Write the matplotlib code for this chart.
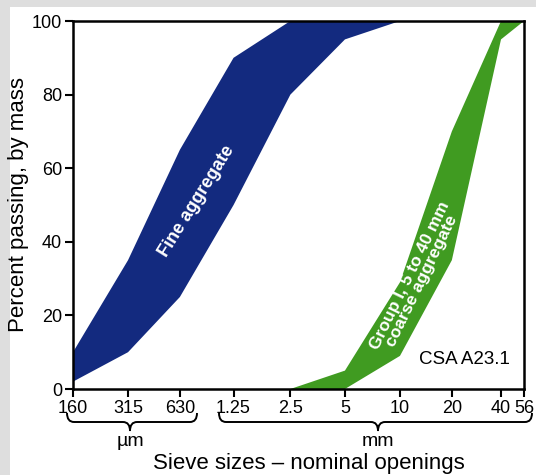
import matplotlib
matplotlib.use('Agg')
import matplotlib.pyplot as plt
import numpy as np
from matplotlib.path import Path
from matplotlib.patches import PathPatch, Rectangle

plt.rcParams['font.family'] = ['Liberation Sans', 'DejaVu Sans']

# sieve sizes in mm, tick labels as printed
sieve_mm = [0.16, 0.315, 0.63, 1.25, 2.5, 5, 10, 20, 40, 56]
sieve_labels = ['160', '315', '630', '1.25', '2.5', '5', '10', '20', '40', '56']
# where each sieve sits along the (hand drawn) axis, 0..1
sieve_pos = [0, 0.122, 0.237, 0.356, 0.482, 0.603, 0.725, 0.840, 0.949, 1.0]

# fine aggregate band
fine_upper_x = [0.16, 0.315, 0.63, 1.25, 2.5, 10]
fine_upper_y = [10, 35, 65, 90, 100, 100]
fine_lower_x = [0.16, 0.315, 0.63, 1.25, 2.5, 5, 10]
fine_lower_y = [2, 10, 25, 50, 80, 95, 100]

# Group I 5-40 mm coarse aggregate band
coarse_upper_x = [2.5, 5, 10, 20, 40, 56]
coarse_upper_y = [0, 5, 29, 70, 100, 100]
coarse_lower_x = [5, 10, 20, 40, 56]
coarse_lower_y = [0, 9, 35, 95, 100]

BLUE = '#132a7f'
GREEN = '#409b21'
W, H = 536, 475

logs = np.log(sieve_mm)


def fwd(x):
    return np.interp(np.log(np.clip(x, 1e-6, None)), logs, sieve_pos)


def inv(p):
    return np.exp(np.interp(p, sieve_pos, logs))


fig = plt.figure(figsize=(W / 100, H / 100), dpi=100, facecolor='#dedede')
fig.patches.append(Rectangle((10 / W, 0), 1, 1 - 7 / H, transform=fig.transFigure,
                             facecolor='white', edgecolor='none', zorder=-5))

ax = fig.add_axes([73 / W, 1 - 389 / H, 451 / W, 368 / H])
ax.set_xscale('function', functions=(fwd, inv))
ax.set_xlim(0.16, 56)
ax.set_ylim(0, 100)

ax.fill(fine_upper_x + fine_lower_x[::-1], fine_upper_y + fine_lower_y[::-1],
        color=BLUE, lw=0)
ax.fill(coarse_upper_x + coarse_lower_x[::-1], coarse_upper_y + coarse_lower_y[::-1],
        color=GREEN, lw=0)

ax.set_xticks(sieve_mm)
ax.set_xticklabels(sieve_labels)
ax.xaxis.set_minor_locator(plt.NullLocator())
ax.set_yticks([0, 20, 40, 60, 80, 100])
ax.tick_params(axis='both', length=6, width=1.5, labelsize=13, pad=2)
for s in ax.spines.values():
    s.set_linewidth(1.8)

ax.set_ylabel('Percent passing, by mass', fontsize=16, labelpad=2)

ax.text(0.776, 51, 'Fine aggregate', rotation=58, color='white', fontsize=13,
        fontweight='bold', ha='center', va='center')
ax.text(12.4, 30, 'Group I, 5 to 40 mm\ncoarse aggregate', rotation=64, color='white',
        fontsize=12.5, fontweight='bold', ha='center', va='center', linespacing=0.8)
ax.text(0.969, 0.08, 'CSA A23.1', transform=ax.transAxes, fontsize=13.5,
        ha='right', va='center')


def brace(x0, x1, xc, ytop=413, ymid=422, ybot=431, r=7):
    pts = [(x0, ytop), (x0, ymid), (x0 + r, ymid), (xc - r, ymid), (xc, ymid), (xc, ybot),
           (xc, ymid), (xc + r, ymid), (x1 - r, ymid), (x1, ymid), (x1, ytop)]
    codes = [Path.MOVETO, Path.CURVE3, Path.CURVE3, Path.LINETO, Path.CURVE3, Path.CURVE3,
             Path.CURVE3, Path.CURVE3, Path.LINETO, Path.CURVE3, Path.CURVE3]
    verts = [(x / W, 1 - y / H) for x, y in pts]
    fig.patches.append(PathPatch(Path(verts, codes), transform=fig.transFigure,
                                 facecolor='none', edgecolor='black', lw=1.4))


brace(67, 197, 130)
brace(219, 532, 378)
fig.text(130 / W, 1 - 441 / H, 'µm', fontsize=14, ha='center', va='center')
fig.text(378 / W, 1 - 441 / H, 'mm', fontsize=14, ha='center', va='center')
fig.text(309 / W, 1 - 463 / H, 'Sieve sizes – nominal openings', fontsize=16,
         ha='center', va='center')

fig.savefig('out.png', dpi=100, facecolor=fig.get_facecolor())
